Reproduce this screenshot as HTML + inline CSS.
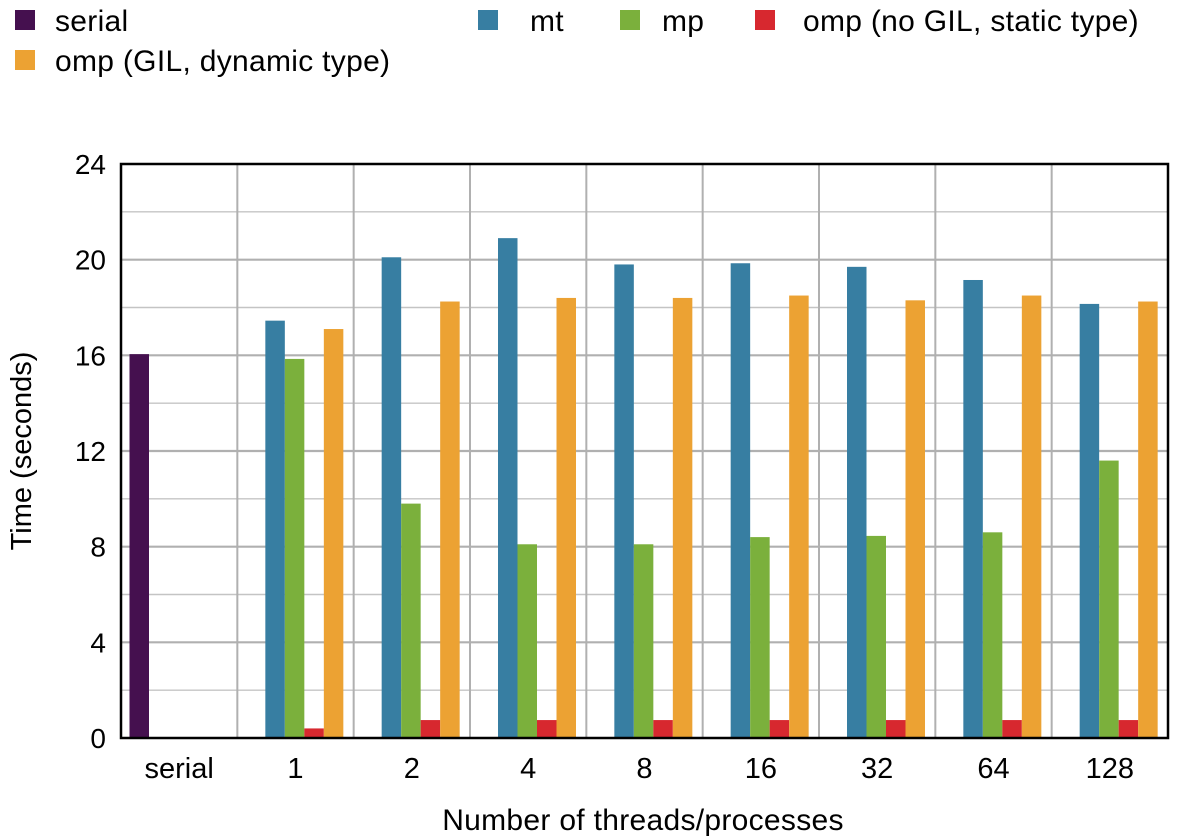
<!DOCTYPE html>
<html><head><meta charset="utf-8"><style>
html,body{margin:0;padding:0;background:#fff;}
svg{display:block;font-family:"Liberation Sans",sans-serif;}
</style></head><body>
<svg id="chart" width="1179" height="839"></svg>
<script>
const categories=["serial","1","2","4","8","16","32","64","128"];
const serialVals=[16.05,0,0,0,0,0,0,0,0];
const mtVals=[0,17.45,20.1,20.9,19.8,19.85,19.7,19.15,18.15];
const mpVals=[0,15.85,9.8,8.1,8.1,8.4,8.45,8.6,11.6];
const ompNoGilVals=[0,0.4,0.75,0.75,0.75,0.75,0.75,0.75,0.75];
const ompGilVals=[0,17.1,18.25,18.4,18.4,18.5,18.3,18.5,18.25];
const yTicks=[0,4,8,12,16,20,24];
const seriesNames=["serial","mt","mp","omp (no GIL, static type)","omp (GIL, dynamic type)"];

const NS="http://www.w3.org/2000/svg";
const svg=document.getElementById('chart');
function mk(tag,attrs,parent){const e=document.createElementNS(NS,tag);for(const k in attrs)e.setAttribute(k,attrs[k]);(parent||svg).appendChild(e);return e;}
const L=121,R=1168,T=164,B=738,yMax=24;
const y=v=>B-(v/yMax)*(B-T);
const gw=(R-L)/categories.length;
const xg=i=>L+i*gw;
const slot=19.5, off=8.5;
const colors=["#45104f","#377ea2","#7bb03c","#d7282f","#eca233"];
const series=[serialVals,mtVals,mpVals,ompNoGilVals,ompGilVals];

for(let v=2;v<yMax;v+=2){
  const major=v%4===0;
  const g=mk('line',{x1:L,x2:R,y1:y(v),y2:y(v),stroke:major?'#b0b0b0':'#c4c4c4','stroke-width':major?2.2:1.4});
  
  
}
for(let i=1;i<categories.length;i++){
  const g=mk('line',{x1:xg(i),x2:xg(i),y1:T,y2:B,stroke:'#b0b0b0','stroke-width':2});
  
  
}
series.forEach((vals,s)=>{
  vals.forEach((v,i)=>{
    if(v<=0)return;
    const r=mk('rect',{x:xg(i)+off+s*slot,y:y(v),width:slot,height:B-y(v),fill:colors[s]});
    
    
  });
});
const fr=mk('rect',{x:L,y:T,width:R-L,height:B-T,fill:'none',stroke:'#000','stroke-width':2.5});


yTicks.forEach(v=>{
  const t=mk('text',{x:106,y:y(v)+10,'text-anchor':'end','font-size':28,fill:'#000'});
  t.textContent=v;
  
  
});
categories.forEach((c,i)=>{
  const t=mk('text',{x:xg(i)+gw/2,y:778,'text-anchor':'middle','font-size':29,fill:'#000'});
  t.textContent=c;
  
  
});
const xt=mk('text',{x:643,y:830,'text-anchor':'middle','font-size':30,'letter-spacing':0.3,fill:'#000'});
xt.textContent="Number of threads/processes";


const yt=mk('text',{x:0,y:0,'text-anchor':'middle','font-size':29,fill:'#000',transform:'translate(31,451) rotate(-90)'});
yt.textContent="Time (seconds)";


const leg=[[0,15,10,55],[1,478,10,530],[2,620,10,662],[3,755,10,803],[4,15,50,55]];
leg.forEach(([s,sx,sy,tx])=>{
  const r=mk('rect',{x:sx,y:sy,width:20,height:20,fill:colors[s]});
  
  
  const t=mk('text',{x:tx,y:sy+21,'font-size':30,'letter-spacing':0.3,fill:'#000'});
  t.textContent=seriesNames[s];
  
  
});
</script>
</body></html>
